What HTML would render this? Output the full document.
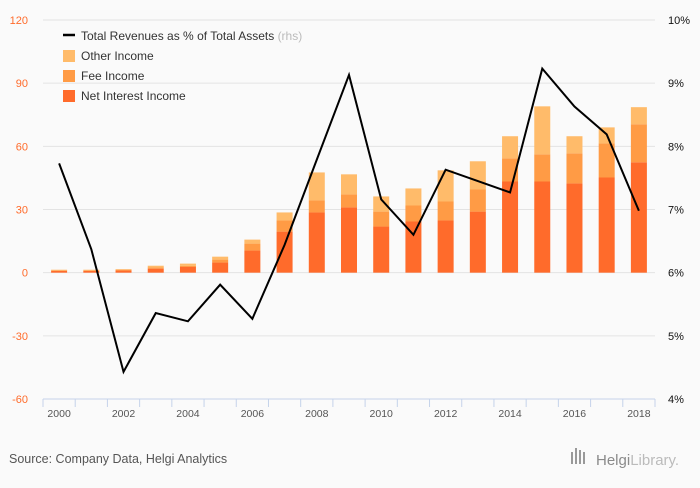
<!DOCTYPE html>
<html><head><meta charset="utf-8">
<style>
html,body{margin:0;padding:0;background:#fafafa;}
body{width:700px;height:483px;overflow:hidden;font-family:"Liberation Sans",sans-serif;}
svg text{font-family:"Liberation Sans",sans-serif;}
</style></head>
<body>
<svg id="chart" width="700" height="483" viewBox="0 0 700 483" xmlns="http://www.w3.org/2000/svg">
<rect x="0" y="0" width="700" height="483" fill="#fafafa"/>
<g id="grid"></g>
<g id="bars"></g>
<g id="line"></g>
<g id="axes"></g>
<g>
  <line x1="63" y1="35" x2="75" y2="35" stroke="#000" stroke-width="2.5"/>
  <text x="81" y="40" font-size="12" fill="#333">Total Revenues as % of Total Assets <tspan fill="#bbb">(rhs)</tspan></text>
  <rect x="63" y="50" width="12" height="12" fill="#ffbb6a"/>
  <text x="81" y="60" font-size="12" fill="#333">Other Income</text>
  <rect x="63" y="70" width="12" height="12" fill="#ff9b45"/>
  <text x="81" y="80" font-size="12" fill="#333">Fee Income</text>
  <rect x="63" y="90" width="12" height="12" fill="#ff6b2b"/>
  <text x="81" y="100" font-size="12" fill="#333">Net Interest Income</text>
</g>
<text x="9" y="463" font-size="12.5" fill="#555">Source: Company Data, Helgi Analytics</text>
<g>
  <rect x="571" y="452" width="2" height="12" fill="#999"/><rect x="575" y="448" width="2" height="16" fill="#999"/><rect x="579" y="450" width="2" height="14" fill="#999"/><rect x="583" y="452" width="2" height="12" fill="#999"/>
  <text x="596" y="465" font-size="15" fill="#8a8a8a" font-family="Liberation Serif, serif">Helgi<tspan fill="#bbb">Library.</tspan></text>
</g>
</svg>
<script>
const years = ["2000","2001","2002","2003","2004","2005","2006","2007","2008","2009","2010","2011","2012","2013","2014","2015","2016","2017","2018"];
const netInterestIncome = [0.8,0.8,1.0,1.9,2.7,4.8,10.5,19.5,28.6,31.0,21.9,24.3,24.8,29.0,43.3,43.3,42.4,45.2,52.4];
const feeIncome = [0.3,0.3,0.4,0.6,0.5,1.4,3.3,5.3,5.7,6.1,7.1,7.6,9.0,10.5,11.0,12.9,14.3,16.2,18.1];
const otherIncome = [0.3,0.3,0.3,0.8,1.1,1.4,1.9,3.8,13.3,9.6,7.2,8.1,14.8,13.4,10.5,22.8,8.1,7.6,8.1];
const revenuePct = [7.73,6.37,4.43,5.36,5.23,5.81,5.27,6.44,7.79,9.13,7.16,6.60,7.63,7.45,7.27,9.23,8.63,8.19,6.98];
const leftTicks = [120,90,60,30,0,-30,-60];
const rightTicks = ["10%","9%","8%","7%","6%","5%","4%"];
const rightTickValues = [10,9,8,7,6,5,4];

const NS="http://www.w3.org/2000/svg";
const X0=43, X1=655, YTOP=20, YBOT=399;
const bw=(X1-X0)/years.length;
function xc(i){return X0+bw*(i+0.5);}
function yL(v){return YBOT-(v+60)/180*(YBOT-YTOP);}
function yR(v){return YBOT-(v-4)/6*(YBOT-YTOP);}
function mk(tag,attrs,parent){const e=document.createElementNS(NS,tag);for(const k in attrs)e.setAttribute(k,attrs[k]);parent.appendChild(e);return e;}

const grid=document.getElementById('grid');
const axes=document.getElementById('axes');
leftTicks.forEach((t,i)=>{
  const y=yL(t);
  if(t!==-60){const g=mk('line',{x1:X0,x2:X1,y1:y,y2:y,stroke:'#e3e3e3','stroke-width':1},grid);
  
  }
  const lt=mk('text',{x:28,y:y+4,'font-size':11,fill:'#ff6b2b','text-anchor':'end'},axes);
  lt.textContent=t;
  
  
});
rightTicks.forEach((t,i)=>{
  const y=yR(rightTickValues[i]);
  const rt=mk('text',{x:668,y:y+4,'font-size':11,fill:'#111'},axes);
  rt.textContent=t;
  
  
});
const ax=mk('line',{x1:X0,x2:X1,y1:YBOT,y2:YBOT,stroke:'#c5d3ea','stroke-width':1},axes);


for(let i=0;i<=years.length;i++){
  const x=X0+bw*i;
  const tk=mk('line',{x1:x,x2:x,y1:YBOT,y2:YBOT+8,stroke:'#c5d3ea','stroke-width':1},axes);
  
  
}
years.forEach((yr,i)=>{
  if(i%2) return;
  const t=mk('text',{x:xc(i),y:YBOT+18,'font-size':10.5,fill:'#555','text-anchor':'middle'},axes);
  t.textContent=yr;
  
  
});

const bars=document.getElementById('bars');
years.forEach((yr,i)=>{
  const w=16, x=xc(i)-w/2;
  const a=netInterestIncome[i], b=feeIncome[i], c=otherIncome[i];
  const segs=[[0,a,'#ff6b2b','bar-net-interest-'+yr],[a,a+b,'#ff9b45','bar-fee-'+yr],[a+b,a+b+c,'#ffbb6a','bar-other-'+yr]];
  segs.forEach(s=>{
    const r=mk('rect',{x:x,y:yL(s[1]),width:w,height:yL(s[0])-yL(s[1]),fill:s[2]},bars);
    
    
  });
});

const line=document.getElementById('line');
const pts=revenuePct.map((v,i)=>xc(i)+','+yR(v)).join(' ');
const pl=mk('polyline',{points:pts,fill:'none',stroke:'#000','stroke-width':2,'stroke-linejoin':'miter'},line);


</script>
</body></html>
